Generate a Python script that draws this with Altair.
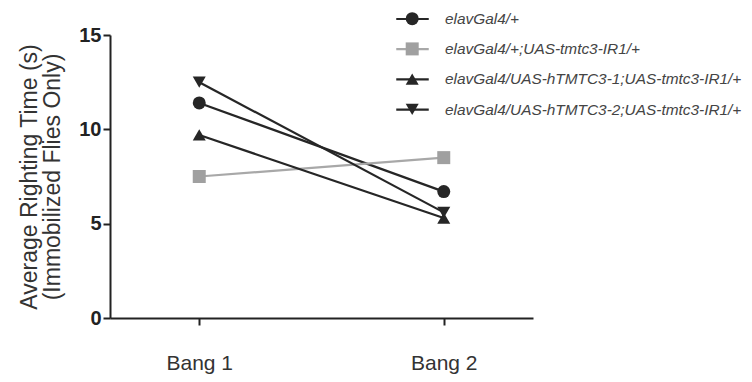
import altair as alt
import pandas as pd

series = [
    "elavGal4/+",
    "elavGal4/+;UAS-tmtc3-IR1/+",
    "elavGal4/UAS-hTMTC3-1;UAS-tmtc3-IR1/+",
    "elavGal4/UAS-hTMTC3-2;UAS-tmtc3-IR1/+",
]
sessions = ["Bang 1", "Bang 2"]
bang1 = [11.4, 7.5, 9.7, 12.5]
bang2 = [6.7, 8.5, 5.3, 5.6]
line_colors = ["#262626", "#a8a8a8", "#262626", "#262626"]
marker_colors = ["#262626", "#a0a0a0", "#262626", "#262626"]
shapes = ["circle", "square", "triangle-up", "triangle-down"]

# marker legend uses a separate key (trailing space) so it is not merged with the line legend
series_m = [s + " " for s in series]

rows = []
for s, sm, v1, v2 in zip(series, series_m, bang1, bang2):
    rows.append({"series": s, "series2": sm, "session": sessions[0], "value": v1})
    rows.append({"series": s, "series2": sm, "session": sessions[1], "value": v2})
df = pd.DataFrame(rows)

FONT = "Liberation Sans"

x_enc = alt.X(
    "session:N",
    sort=sessions,
    scale=alt.Scale(type="point", padding=0.365),
    axis=alt.Axis(
        title=None, labelAngle=0, labelFontSize=21, labelColor="#333333",
        labelFont=FONT, labelPadding=27, tickSize=7, tickWidth=2,
        tickColor="#222222", domainWidth=2, domainColor="#222222", grid=False,
    ),
)
y_enc = alt.Y(
    "value:Q",
    scale=alt.Scale(domain=[0, 15], nice=False, zero=True),
    axis=alt.Axis(
        values=[0, 5, 10, 15], title=["Average Righting Time (s)", "(Immobilized Flies Only)"],
        titleFont=FONT, titleFontSize=23, titleFontWeight="normal", titleColor="#333333",
        titleLineHeight=23, titlePadding=14,
        labelFont=FONT, labelFontSize=20, labelFontWeight="bold", labelColor="#222222",
        labelPadding=2, tickSize=7, tickWidth=2, tickColor="#222222",
        domainWidth=2, domainColor="#222222", grid=False,
    ),
)

legend_common = dict(
    orient="none", legendX=294.5, legendY=-24, title=None,
    labelFont=FONT, labelFontSize=15.4, labelFontStyle="italic", labelColor="#444444",
    labelOffset=24.5, rowPadding=13.2, symbolSize=169, labelLimit=500,
)

lines = alt.Chart(df).mark_line(strokeWidth=2.2).encode(
    x=x_enc,
    y=y_enc,
    color=alt.Color(
        "series:N",
        scale=alt.Scale(domain=series, range=line_colors),
        legend=alt.Legend(symbolType="M-2.5,0L2.5,0", symbolStrokeWidth=2.2, zindex=0, **legend_common),
    ),
    detail="series:N",
)

leg_b = alt.Legend(symbolStrokeWidth=0, labelOpacity=0, zindex=1, **legend_common)
points = alt.Chart(df).mark_point(filled=True, size=169, opacity=1, strokeWidth=0).encode(
    x=x_enc,
    y=y_enc,
    fill=alt.Fill("series2:N", scale=alt.Scale(domain=series_m, range=marker_colors), legend=leg_b),
    shape=alt.Shape("series2:N", scale=alt.Scale(domain=series_m, range=shapes), legend=leg_b),
)

chart = (
    alt.layer(lines, points)
    .properties(
        width=423, height=283,
        autosize=alt.AutoSizeParams(type="none"),
        padding={"left": 102, "top": 27, "right": 211, "bottom": 56},
        background="white",
    )
    .configure_view(stroke=None)
)

chart.save("out.html", embed_options={"renderer": "svg", "actions": False})
